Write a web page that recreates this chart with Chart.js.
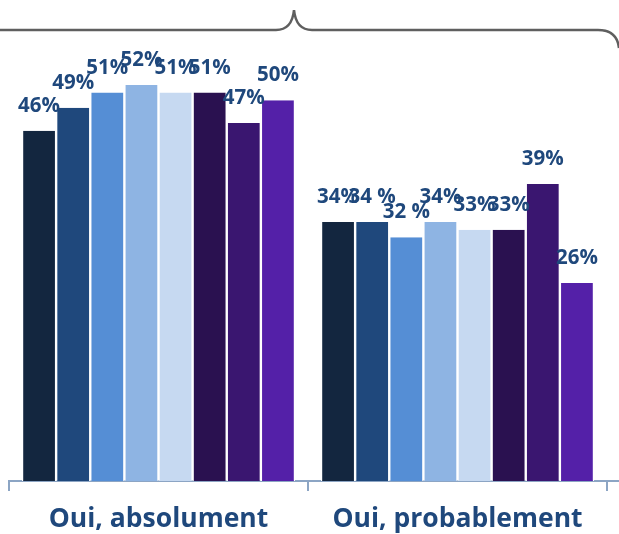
<!DOCTYPE html>
<html>
<head>
<meta charset="utf-8">
<script src="https://cdn.jsdelivr.net/npm/chart.js@4"></script>
<style>
  body { margin: 0; background: #fff; }
  #wrap { width: 619px; height: 534px; position: relative; }
</style>
</head>
<body>
<div id="wrap"><canvas id="chart"></canvas></div>
<script>
// Categories and series values (percent)
const categories = ['Oui, absolument', 'Oui, probablement'];
const serie1 = [46, 34];
const serie2 = [49, 34];
const serie3 = [51, 32];
const serie4 = [52, 34];
const serie5 = [51, 33];
const serie6 = [51, 33];
const serie7 = [47, 39];
const serie8 = [50, 26];
const seriesValues = [serie1, serie2, serie3, serie4, serie5, serie6, serie7, serie8];
const seriesColors = ['#13263F', '#1F487C', '#558ED5', '#8EB4E3', '#C6D9F1', '#2A1150', '#3A1670', '#5420A8'];
// labels written with a space before % in the original ("datasetIndex-categoryIndex")
const spacedLabels = ['1-1', '2-1'];

const labelColor = '#1F487C';
const axisColor = '#8CA5C4';

// Value labels above each bar
const valueLabels = {
    id: 'valueLabels',
    afterDatasetsDraw(chart) {
        const ctx = chart.ctx;
        ctx.save();
        ctx.fillStyle = labelColor;
        ctx.font = 'bold 20.5px "Open Sans"';
        ctx.textAlign = 'center';
        ctx.textBaseline = 'alphabetic';
        chart.data.datasets.forEach((ds, i) => {
            chart.getDatasetMeta(i).data.forEach((bar, j) => {
                const sep = spacedLabels.includes(i + '-' + j) ? ' ' : '';
                ctx.fillText(ds.data[j] + sep + '%', bar.x, bar.y - 19);
            });
        });
        ctx.restore();
    }
};

// Curly brace at the top and axis line running to the right edge
const decorations = {
    id: 'decorations',
    afterDraw(chart) {
        const ctx = chart.ctx;
        const area = chart.chartArea;
        ctx.save();
        ctx.strokeStyle = '#5F5F5F';
        ctx.lineWidth = 2.5;
        ctx.beginPath();
        ctx.moveTo(0, 30);
        ctx.lineTo(276, 30);
        ctx.quadraticCurveTo(292, 30, 294, 10);
        ctx.quadraticCurveTo(296, 30, 312, 30);
        ctx.lineTo(598, 30);
        ctx.quadraticCurveTo(617, 30, 619, 48);
        ctx.stroke();

        ctx.strokeStyle = axisColor;
        ctx.lineWidth = 2;
        ctx.beginPath();
        ctx.moveTo(area.right, area.bottom);
        ctx.lineTo(chart.width, area.bottom);
        ctx.stroke();
        ctx.restore();
    }
};

new Chart(document.getElementById('chart').getContext('2d'), {
    type: 'bar',
    data: {
        labels: categories,
        datasets: seriesValues.map((vals, i) => ({
            label: 'Série ' + (i + 1),
            data: vals,
            backgroundColor: seriesColors[i],
            borderColor: '#ffffff',
            borderWidth: { left: 1.2, right: 1.2, top: 0, bottom: 0 },
            borderSkipped: false,
            categoryPercentage: 0.913,
            barPercentage: 1
        }))
    },
    options: {
        responsive: true,
        maintainAspectRatio: false,
        animation: false,
        layout: { padding: { left: 9, right: 12, top: 24, bottom: 0 } },
        plugins: {
            legend: { display: false },
            tooltip: { enabled: false }
        },
        scales: {
            x: {
                afterFit: scale => { scale.height = 53; },
                border: { color: axisColor, width: 2 },
                grid: {
                    display: true,
                    drawOnChartArea: false,
                    drawTicks: true,
                    tickLength: 10,
                    color: axisColor,
                    lineWidth: 2,
                    offset: true
                },
                ticks: {
                    color: labelColor,
                    padding: 13,
                    maxRotation: 0,
                    font: { family: '"Open Sans"', size: 26.5, weight: 'bold' }
                }
            },
            y: {
                display: false,
                min: 0,
                max: 60
            }
        }
    },
    plugins: [valueLabels, decorations]
});
</script>
</body>
</html>
